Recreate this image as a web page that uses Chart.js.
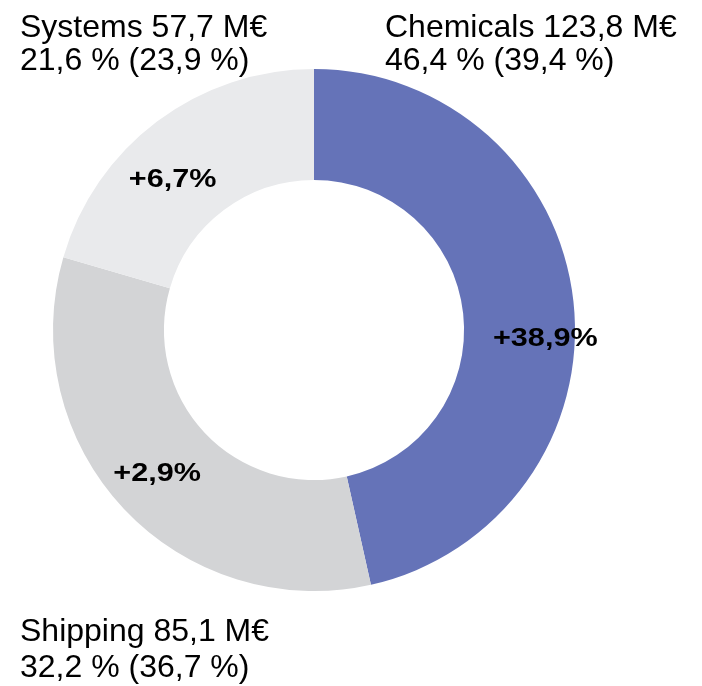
<!DOCTYPE html>
<html>
<head>
<meta charset="utf-8">
<script src="https://cdn.jsdelivr.net/npm/chart.js@4/dist/chart.umd.min.js"></script>
<style>
  html, body { margin: 0; padding: 0; background: #ffffff; }
  #wrap { width: 702px; height: 686px; position: relative; }
</style>
</head>
<body>
<div id="wrap"><canvas id="c" width="702" height="686"></canvas></div>
<script>
// Data
const categories = ['Chemicals', 'Shipping', 'Systems'];
const revenueLabels = ['123,8', '85,1', '57,7'];   // M€ as labelled
const arcShares = [46.5, 33.0, 20.5];            // share of ring as drawn (%)
const shareNow = ['46,4 %', '32,2 %', '21,6 %'];
const sharePrev = ['39,4 %', '36,7 %', '23,9 %'];
const growth = ['+38,9%', '+2,9%', '+6,7%'];

const colors = ['#6573B8', '#D3D4D6', '#E9EAEC'];

// Label placement (styling only)
const outerLabelPos = [
  { x: 385, y: 37, gap: 33 },   // Chemicals
  { x: 20,  y: 641, gap: 36 },  // Shipping
  { x: 20,  y: 37, gap: 33 }    // Systems
];
const innerLabelShift = [[27, 31], [-7, 3], [-18, 14]];

const labelPlugin = {
  id: 'labels',
  afterDatasetsDraw(chart) {
    const ctx = chart.ctx;
    const meta = chart.getDatasetMeta(0);
    ctx.save();
    meta.data.forEach((arc, i) => {
      const p = arc.getProps(['x', 'y', 'startAngle', 'endAngle', 'innerRadius', 'outerRadius'], true);
      const mid = (p.startAngle + p.endAngle) / 2;
      const r = (p.innerRadius + p.outerRadius) / 2;
      const x = p.x + Math.cos(mid) * r + innerLabelShift[i][0];
      const y = p.y + Math.sin(mid) * r + innerLabelShift[i][1];
      ctx.save();
      ctx.translate(x, y);
      ctx.scale(1.2, 1.04);
      ctx.font = 'bold 25.5px "Liberation Sans", Arial, sans-serif';
      ctx.fillStyle = '#000';
      ctx.textAlign = 'center';
      ctx.textBaseline = 'middle';
      ctx.fillText(growth[i], 0, 0);
      ctx.restore();
    });
    ctx.font = '32px "Liberation Sans", Arial, sans-serif';
    ctx.fillStyle = '#000';
    ctx.textAlign = 'left';
    ctx.textBaseline = 'alphabetic';
    categories.forEach((c, i) => {
      const pos = outerLabelPos[i];
      ctx.fillText(c + ' ' + revenueLabels[i] + ' M€', pos.x, pos.y);
      ctx.fillText(shareNow[i] + ' (' + sharePrev[i] + ')', pos.x, pos.y + pos.gap);
    });
    ctx.restore();
  }
};

new Chart(document.getElementById('c'), {
  type: 'doughnut',
  data: {
    labels: categories,
    datasets: [{
      data: arcShares,
      backgroundColor: colors,
      borderWidth: 0,
      hoverOffset: 0
    }]
  },
  options: {
    responsive: false,
    animation: false,
    cutout: '57.5%',
    layout: { padding: { left: 53, right: 127, top: 69, bottom: 95 } },
    plugins: {
      legend: { display: false },
      tooltip: { enabled: false }
    }
  },
  plugins: [labelPlugin]
});
</script>
</body>
</html>
